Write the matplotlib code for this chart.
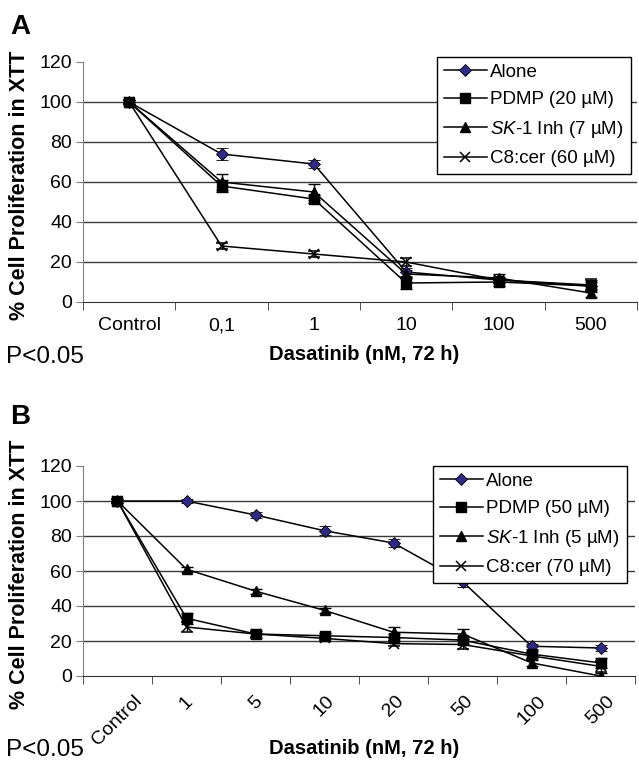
import numpy as np
import matplotlib
matplotlib.use("Agg")
import matplotlib.pyplot as plt
from matplotlib.lines import Line2D

plt.rcParams['font.family'] = ['Liberation Sans', 'DejaVu Sans']
plt.rcParams['mathtext.fontset'] = 'custom'
plt.rcParams['mathtext.rm'] = 'Liberation Sans'
plt.rcParams['mathtext.it'] = 'Liberation Sans:italic'

# panel A data
doses_a = ["Control", "0,1", "1", "10", "100", "500"]
alone_a = [100, 74, 69, 15, 11, 8]
alone_a_err = [1, 3, 2, 2, 1.5, 2]
pdmp_a = [100, 58, 51.5, 9.5, 10, 8]
pdmp_a_err = [1, 3, 2, 3, 2, 3]
sk1_a = [100, 60, 55, 14, 12, 4.5]
sk1_a_err = [1, 4, 4, 2, 2, 2]
c8_a = [100, 28, 24, 20, 11, 8.5]
c8_a_err = [1, 1.5, 1.5, 2, 1.5, 3]
labels_a = ["Alone", "PDMP (20 µM)", r"$\mathit{SK}$-$\mathit{1}$ Inh (7 µM)", "C8:cer (60 µM)"]

# panel B data
doses_b = ["Control", "1", "5", "10", "20", "50", "100", "500"]
alone_b = [100, 100, 92, 83, 76, 54, 17, 16]
alone_b_err = [1, 1, 1.5, 2.5, 2.5, 3, 1.5, 1.5]
pdmp_b = [100, 33, 24, 23, 22, 20.5, 12.5, 7.5]
pdmp_b_err = [1, 3, 2, 1.5, 2, 2, 2, 3]
sk1_b = [100, 61, 48.5, 37.5, 25, 24, 7.5, 0]
sk1_b_err = [1, 1.5, 1.5, 1.5, 3, 3, 1.5, 1.5]
c8_b = [100, 28, 24, 21.5, 18.5, 18, 11.5, 5.5]
c8_b_err = [1, 3, 1.5, 1, 1.5, 2.5, 1.5, 3]
labels_b = ["Alone", "PDMP (50 µM)", r"$\mathit{SK}$-$\mathit{1}$ Inh (5 µM)", "C8:cer (70 µM)"]

W, H = 639, 762
fig = plt.figure(figsize=(W / 100, H / 100), dpi=100)


def fx(px):
    return px / W


def fy(py):
    return 1 - py / H


styles = [
    dict(marker="D", markersize=6, markerfacecolor="#2e2a86", markeredgecolor="black", markeredgewidth=0.6),
    dict(marker="s", markersize=6.5, markerfacecolor="black", markeredgecolor="black"),
    dict(marker="^", markersize=7.5, markerfacecolor="black", markeredgecolor="black"),
    dict(marker="x", markersize=7, markeredgecolor="black", markeredgewidth=1.1),
]


def panel(ax, doses, series, errs, labels, leg_xy, rotate):
    n = len(doses)
    x = np.arange(n)
    handles = []
    for vals, err, st in zip(series, errs, styles):
        ax.errorbar(x, vals, yerr=err, color="black", linewidth=1.1, capsize=4,
                    elinewidth=1, capthick=1, zorder=3, **st)
        handles.append(Line2D([], [], color="black", linewidth=1.1, **st))
    ax.set_xlim(-0.5, n - 0.5)
    ax.set_ylim(0, 120)
    ax.set_yticks(range(0, 121, 20))
    ax.yaxis.grid(True, color="#3a3a3a", linewidth=1)
    gl = ax.get_ygridlines()
    gl[0].set_visible(False)
    gl[-1].set_visible(False)
    ax.set_axisbelow(True)
    ax.set_xticks(x)
    if rotate:
        # excel style: rotated box centred under the category
        ax.set_xticklabels(doses, rotation=45, ha="center", va="top")
    else:
        ax.set_xticklabels(doses)
    ax.set_xticks(np.arange(n + 1) - 0.5, minor=True)
    ax.tick_params(axis="x", which="major", length=0, pad=11 if not rotate else 12, labelsize=14)
    ax.tick_params(axis="x", which="minor", length=6, color="#333333", direction="out")
    ax.tick_params(axis="y", length=5, color="#808080", labelsize=14, pad=3)
    for s in ["top", "right"]:
        ax.spines[s].set_visible(False)
    ax.spines["left"].set_color("#808080")
    ax.spines["bottom"].set_color("#333333")
    leg = ax.legend(handles, labels, loc="upper left",
                    bbox_to_anchor=(fx(leg_xy[0]), fy(leg_xy[1])),
                    bbox_transform=fig.transFigure, borderaxespad=0, fontsize=13.5,
                    frameon=True, fancybox=False, edgecolor="black", framealpha=1,
                    handlelength=2.3, handletextpad=0.2, labelspacing=0.56,
                    borderpad=0.35)
    leg.get_frame().set_linewidth(1)
    leg.set_zorder(5)


ax_a = fig.add_axes([fx(83), fy(302), fx(637 - 83), (302 - 62) / H])
panel(ax_a, doses_a, [alone_a, pdmp_a, sk1_a, c8_a],
      [alone_a_err, pdmp_a_err, sk1_a_err, c8_a_err], labels_a, (437, 57), False)

ax_b = fig.add_axes([fx(83), fy(676), fx(635 - 83), (676 - 466) / H])
panel(ax_b, doses_b, [alone_b, pdmp_b, sk1_b, c8_b],
      [alone_b_err, pdmp_b_err, sk1_b_err, c8_b_err], labels_b, (433, 466), True)

ylab = "% Cell Proliferation in XTT"
xlab = "Dasatinib (nM, 72 h)"
for top, ymid, pmid in [(27, 185, 357), (417, 574, 750)]:
    fig.text(fx(10), fy(top), "A" if top < 100 else "B", fontsize=20, fontweight="bold",
             ha="left", va="center")
    fig.text(fx(20), fy(ymid), ylab, rotation=90, fontsize=15.5, fontweight="bold",
             ha="center", va="center")
    fig.text(fx(6), fy(pmid), "P<0.05", fontsize=17.5, ha="left", va="center")
    fig.text(fx(364), fy(pmid - 2), xlab, fontsize=14.5, fontweight="bold",
             ha="center", va="center")

fig.savefig("out.png", dpi=100)
